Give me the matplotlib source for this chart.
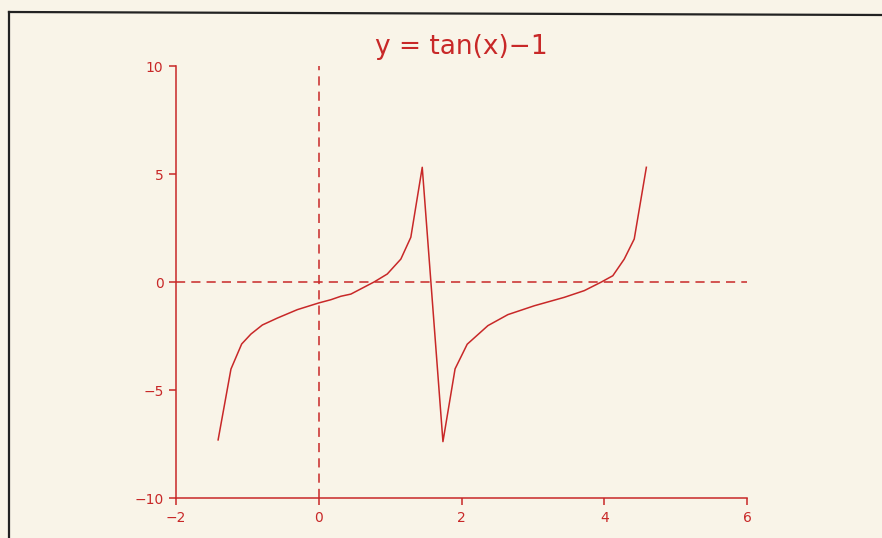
import matplotlib
matplotlib.use("Agg")
import matplotlib.pyplot as plt
from matplotlib.lines import Line2D

# points read along the plotted curve y = tan(x) - 1
xs = [-1.41, -1.23, -1.08, -0.95, -0.79, -0.58, -0.30, 0.00, 0.17, 0.31,
      0.45, 0.78, 0.96, 1.15, 1.29, 1.45, 1.74, 1.91, 2.08, 2.37,
      2.65, 3.02, 3.44, 3.72, 3.96, 4.12, 4.28, 4.42, 4.59]
ys = [-7.31, -4.03, -2.87, -2.41, -1.99, -1.67, -1.28, -0.97, -0.82, -0.66,
      -0.56, 0.01, 0.37, 1.06, 2.07, 5.31, -7.39, -4.02, -2.88, -2.02,
      -1.51, -1.10, -0.71, -0.40, 0.00, 0.29, 1.06, 1.99, 5.31]

xticks = [-2, 0, 2, 4, 6]
yticks = [-10, -5, 0, 5, 10]

red = "#c82828"
paper = "#f9f4e8"

fig = plt.figure(figsize=(8.82, 5.38), dpi=100, facecolor=paper)
ax = fig.add_axes([176/882, 1-498/538, 571/882, 432/538])
ax.set_facecolor(paper)

ax.plot(xs, ys, color=red, linewidth=1.1)
# reference axes through the origin
ax.plot([0, 0], [-10, 10], color=red, linestyle=(0, (6, 4)), linewidth=1.1)
ax.plot([-2, 6], [0, 0], color=red, linestyle=(0, (6, 4)), linewidth=1.1)

ax.set_xlim(-2, 6)
ax.set_ylim(-10, 10)
ax.set_xticks(xticks)
ax.set_yticks(yticks)
ax.set_xticklabels([str(t).replace("-", "\u2212") for t in xticks])
ax.set_yticklabels([str(t).replace("-", "\u2212") for t in yticks])
for s in ["top", "right"]:
    ax.spines[s].set_visible(False)
for s in ["left", "bottom"]:
    ax.spines[s].set_color(red)
    ax.spines[s].set_linewidth(1.1)
ax.tick_params(colors=red, labelcolor=red, labelsize=10, length=5, width=1.1, pad=4)

ax.set_title("y = tan(x)\u22121", color=red, fontsize=19, pad=9)

# page border
fig.add_artist(Line2D([9/882, 9/882], [0, 1-12/538], color="#222222", linewidth=1.6))
fig.add_artist(Line2D([9/882, 1], [1-12/538, 1-15/538], color="#222222", linewidth=1.6))

fig.savefig("out.png", dpi=100, facecolor=paper)
